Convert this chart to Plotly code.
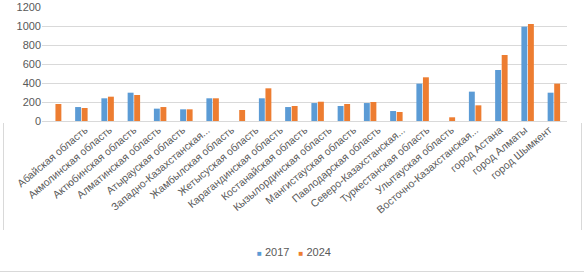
import plotly.graph_objects as go

categories = [
    "Абайская область", "Акмолинская область", "Актюбинская область",
    "Алматинская область", "Атырауская область", "Западно-Казахстанская...",
    "Жамбылская область", "Жетысуская область", "Карагандинская область",
    "Костанайская область", "Кызылординская область", "Мангистауская область",
    "Павлодарская область", "Северо-Казахстанская...", "Туркестанская область",
    "Улытауская область", "Восточно-Казахстанская...", "город Астана",
    "город Алматы", "город Шымкент",
]
series_names = ["2017", "2024"]
values_2017 = [None, 147, 239, 298, 130, 123, 239, None, 239, 147,
               189, 158, 189, 105, 393, None, 309, 537, 993, 298]
values_2024 = [179, 137, 256, 274, 147, 123, 239, 116, 344, 158,
               203, 179, 200, 95, 460, 39, 165, 695, 1021, 393]
y_ticks = [0, 200, 400, 600, 800, 1000, 1200]

BLUE = "#5B9BD5"
ORANGE = "#ED7D31"
GRAY = "#595959"
FONT = "Liberation Sans"

idx = list(range(len(categories)))

fig = go.Figure()
fig.add_trace(go.Bar(name=series_names[0], x=idx, y=values_2017,
                     marker=dict(color=BLUE, line=dict(width=0))))
fig.add_trace(go.Bar(name=series_names[1], x=idx, y=values_2024,
                     marker=dict(color=ORANGE, line=dict(width=0))))
# carrier for the category label axis (labels slightly compressed, as in the reference)
fig.add_trace(go.Scatter(x=idx, y=[0] * len(idx), xaxis="x2", mode="markers",
                         marker=dict(opacity=0, size=1), showlegend=False,
                         hoverinfo="skip"))

W, H = 584, 275
L, R, T, B = 42, 17, 7, 154

def px_x(p):
    return (p - L) / (W - L - R)

def px_y(p):
    return (H - B - p) / (H - T - B)

fig.update_layout(
    width=W, height=H,
    margin=dict(l=L, r=R, t=T, b=B, pad=0),
    paper_bgcolor="white", plot_bgcolor="white",
    barmode="group", bargap=0.5, bargroupgap=0.1,
    font=dict(family=FONT, size=11, color=GRAY),
    showlegend=False,
    xaxis=dict(range=[-0.5, len(idx) - 0.5], automargin=False, showline=True,
               linecolor="#D9D9D9", linewidth=1, ticks="",
               showticklabels=False, showgrid=False, zeroline=False),
    xaxis2=dict(overlaying="x", side="bottom", range=[-1.761, 19.738],
                tickvals=idx, ticktext=categories, tickangle=-40,
                automargin=False, showline=False, showgrid=False,
                zeroline=False, ticks="", ticklabelstandoff=0,
                tickfont=dict(size=10.5, color=GRAY)),
    yaxis=dict(range=[0, 1200], tickvals=y_ticks, automargin=False,
               showgrid=True, gridcolor="#D9D9D9", gridwidth=1,
               zeroline=False, ticks="", tickfont=dict(size=11, color=GRAY)),
)

# legend (small square markers, as in the reference)
fig.add_annotation(
    xref="paper", yref="paper", x=px_x(294), y=px_y(252),
    xanchor="center", yanchor="middle", showarrow=False,
    font=dict(size=11, color=GRAY, family=FONT),
    text=(f'<span style="color:{BLUE};font-size:8px">■</span> {series_names[0]}'
          f'&nbsp;&nbsp;&nbsp;'
          f'<span style="color:{ORANGE};font-size:8px">■</span> {series_names[1]}'),
)

# light chart border (partially visible in the reference)
border = dict(color="#D9D9D9", width=1)
fig.add_shape(type="line", xref="paper", yref="paper",
              x0=px_x(3.5), x1=px_x(3.5), y0=px_y(123), y1=px_y(230), line=border)
fig.add_shape(type="line", xref="paper", yref="paper",
              x0=px_x(581.5), x1=px_x(581.5), y0=px_y(123), y1=px_y(230), line=border)
fig.add_shape(type="line", xref="paper", yref="paper",
              x0=px_x(0), x1=px_x(584), y0=px_y(271.5), y1=px_y(271.5), line=border)

fig.write_html("out.html", config={"displayModeBar": False},
               post_script="document.body.style.margin='0';")
